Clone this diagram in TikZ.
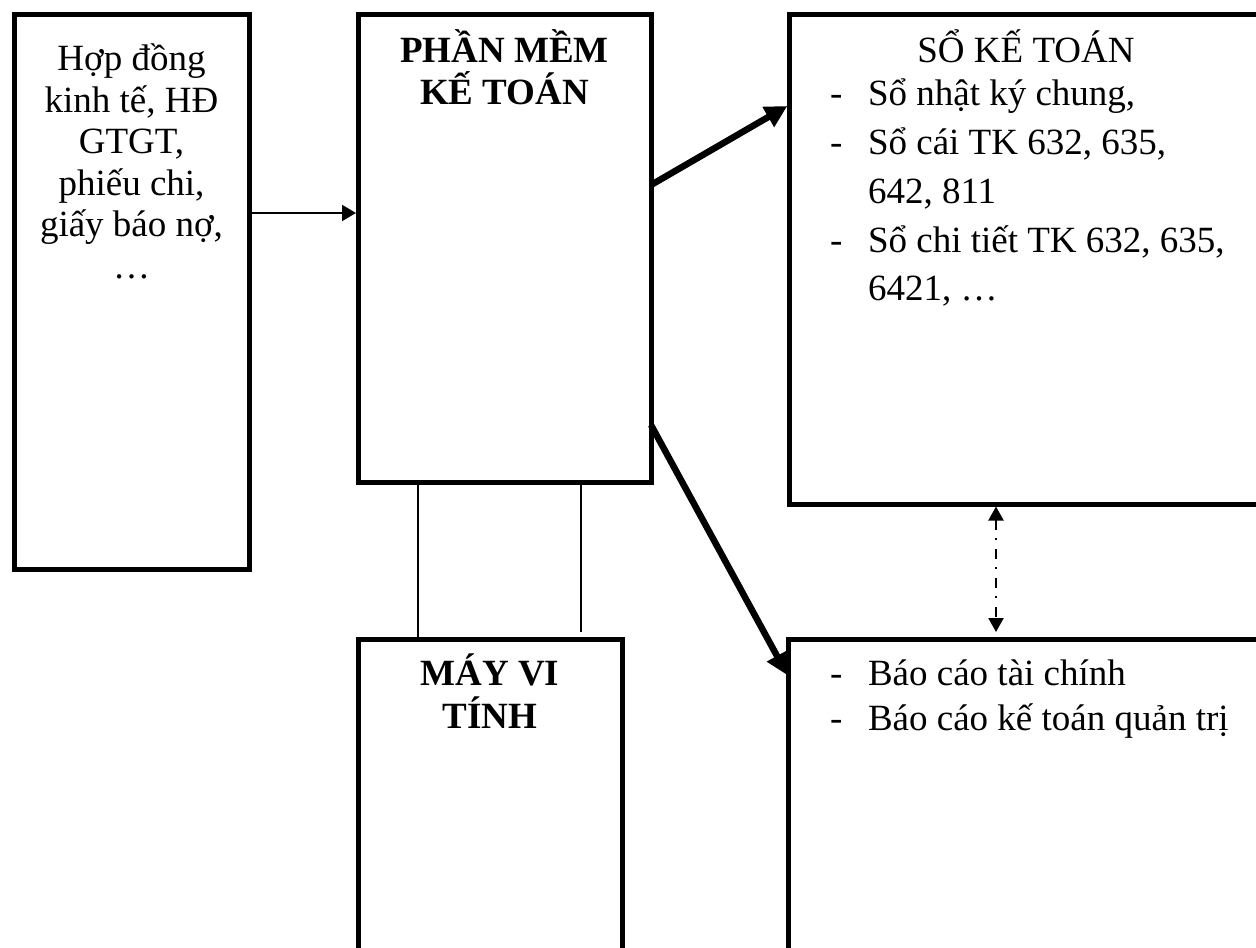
\documentclass[tikz,border=0pt]{standalone}
\usepackage{fontspec}
\setmainfont{Liberation Serif}
\usetikzlibrary{arrows.meta}
\begin{document}
\begin{tikzpicture}[x=1pt,y=-1pt,
  box/.style={draw, line width=5pt, rectangle, inner sep=0pt, outer sep=0pt},
  txt/.style={inner sep=0pt, outer sep=0pt, font=\fontsize{37}{43}\selectfont},
  btxt/.style={inner sep=0pt, outer sep=0pt, font=\fontsize{37}{43}\selectfont\bfseries},
  thinarrow/.style={line width=2pt, -{Triangle[length=14pt,width=16pt]}, shorten >=2pt},
  bigarrow/.style={line width=6.5pt, -{Triangle[length=22pt,width=22pt]}, shorten >=2pt},
  linkline/.style={line width=1.5pt},
  dashdot/.style={line width=2pt, dash pattern=on 10pt off 8pt on 2pt off 9pt,
    {Triangle[length=14pt,width=15pt]}-{Triangle[length=14pt,width=15pt]},
    shorten <=2pt, shorten >=7pt}
]
\useasboundingbox (0,0) rectangle (1256,948);
\clip (0,0) rectangle (1256,948);

% boxes
\node[box, minimum width=235pt, minimum height=555pt] (src) at (131.5,292) {};
\node[box, minimum width=293pt, minimum height=468pt] (soft) at (504.5,248.5) {};
\node[box, minimum width=264pt, minimum height=361pt] (pc) at (490,819.5) {};
\node[box, minimum width=511pt, minimum height=490pt] (books) at (1044.5,259.5) {};
\node[box, minimum width=511.5pt, minimum height=361pt] (reports) at (1044.25,819.5) {};

% source documents
\node[txt, anchor=base] (s1) at (131.5,70) {Hợp đồng};
\node[txt, anchor=base] (s2) at (131.5,112) {kinh tế, HĐ};
\node[txt, anchor=base] (s3) at (131.5,153) {GTGT,};
\node[txt, anchor=base] (s4) at (131.5,195) {phiếu chi,};
\node[txt, anchor=base] (s5) at (131.5,236) {giấy báo nợ,};
\node[txt, anchor=base] (s6) at (131.5,278) {…};

% software
\node[btxt, anchor=base] (p1) at (504.5,62) {PHẦN MỀM};
\node[btxt, anchor=base] (p2) at (504.5,104) {KẾ TOÁN};

% computer
\node[btxt, anchor=base] (m1) at (490,685) {MÁY VI};
\node[btxt, anchor=base] (m2) at (490,728) {TÍNH};

% ledgers
\node[txt, anchor=base] (b0) at (1026,62) {SỔ KẾ TOÁN};
\node[txt, anchor=base west] (d1) at (830,105) {-};
\node[txt, anchor=base west] (b1) at (868,105) {Sổ nhật ký chung,};
\node[txt, anchor=base west] (d2) at (830,154) {-};
\node[txt, anchor=base west] (b2) at (868,154) {Sổ cái TK 632, 635,};
\node[txt, anchor=base west] (b3) at (868,203) {642, 811};
\node[txt, anchor=base west] (d4) at (830,252) {-};
\node[txt, anchor=base west] (b4) at (868,252) {Sổ chi tiết TK 632, 635,};
\node[txt, anchor=base west] (b5) at (868,300) {6421, …};

% reports
\node[txt, anchor=base west] (r0) at (830,685) {-};
\node[txt, anchor=base west] (r1) at (868,685) {Báo cáo tài chính};
\node[txt, anchor=base west] (rd) at (830,730) {-};
\node[txt, anchor=base west] (r2) at (868,730) {Báo cáo kế toán quản trị};

% helper coordinates for connector positions
\coordinate (ya) at (0,213);
\coordinate (yb) at (0,185);
\coordinate (yc) at (0,105);
\coordinate (yd) at (0,425);
\coordinate (ye) at (0,677);
\coordinate (xl) at (418,0);
\coordinate (xr) at (581,0);
\coordinate (xd) at (996,0);
\coordinate (rend) at (581,632);

% connectors
\draw[thinarrow] (src.east |- ya) -- (soft.west |- ya);
\draw[bigarrow] (soft.east |- yb) -- (books.west |- yc);
\draw[bigarrow] (soft.east |- yd) -- (reports.west |- ye);
\draw[linkline] (soft.south -| xl) -- (pc.north -| xl);
\draw[linkline] (soft.south -| xr) -- (rend);
\draw[dashdot] (books.south -| xd) -- (reports.north -| xd);
\end{tikzpicture}
\end{document}
